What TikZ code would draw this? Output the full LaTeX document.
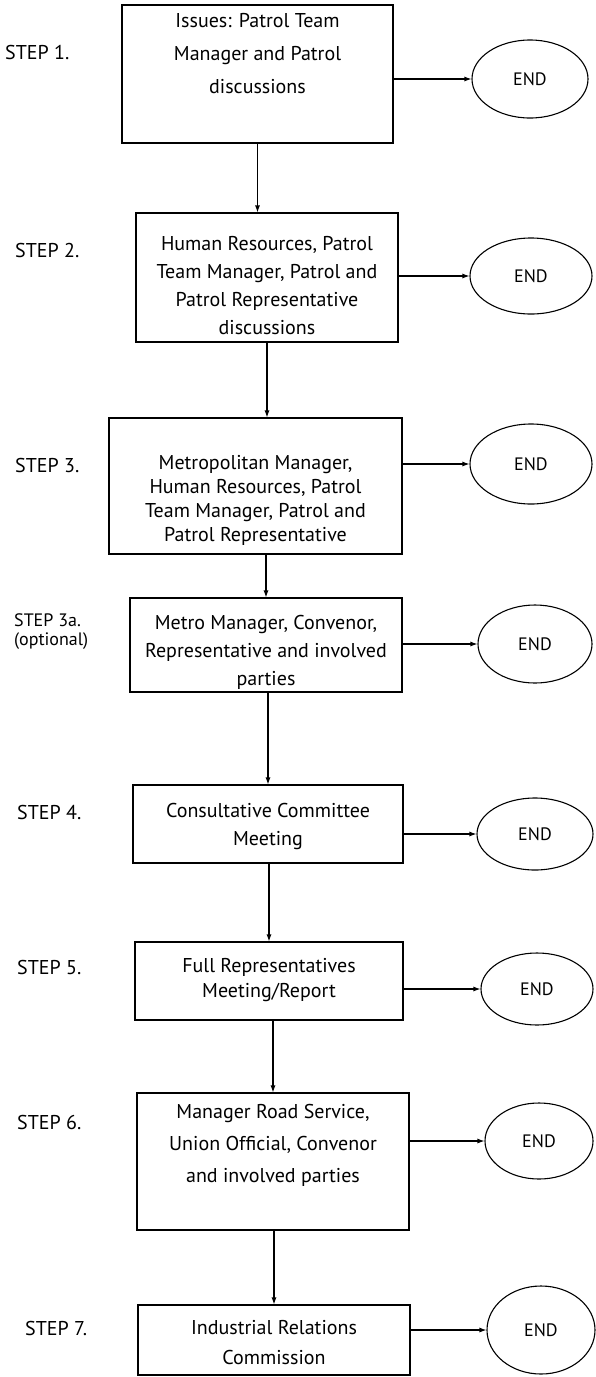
\documentclass[tikz,border=0pt]{standalone}
\usepackage{fontspec}
\setmainfont{PT Sans}
\usetikzlibrary{arrows.meta, shapes.geometric}

\begin{document}
\begin{tikzpicture}[x=1pt, y=-1pt,
  stepbox/.style={draw, line width=1.1pt, inner sep=0pt},
  steptext/.style={align=center, inner sep=0pt, font=\fontsize{20}{28}\selectfont},
  steplabel/.style={anchor=west, inner sep=0pt, align=left, font=\fontsize{20}{19}\selectfont},
  endnode/.style={ellipse, draw, line width=1.1pt, inner sep=0pt, font=\fontsize{18}{20}\selectfont},
  arr/.style={-{Latex[length=7pt,width=5pt]}, line width=1.1pt}]
\useasboundingbox (0,0) rectangle (596,1377);
% Draw step boxes
\node[stepbox, minimum width=271pt, minimum height=138pt] (s1) at (257.5,74) {};
\node[stepbox, minimum width=262pt, minimum height=129pt] (s2) at (267,277.5) {};
\node[stepbox, minimum width=293pt, minimum height=136pt] (s3) at (255.5,486) {};
\node[stepbox, minimum width=272pt, minimum height=94pt] (s3a) at (266,645) {};
\node[stepbox, minimum width=270pt, minimum height=78pt] (s4) at (268,824) {};
\node[stepbox, minimum width=268pt, minimum height=78pt] (s5) at (269,981) {};
\node[stepbox, minimum width=272pt, minimum height=137pt] (s6) at (273,1161.5) {};
\node[stepbox, minimum width=272pt, minimum height=70pt] (s7) at (274,1340) {};
% Texts in the boxes
\node[steptext, font=\fontsize{20}{33}\selectfont] (t1) at (257.5,54) {Issues: Patrol Team\\Manager and Patrol\\discussions};
\node[steptext] (t2) at (267,286) {Human Resources, Patrol\\Team Manager, Patrol and\\Patrol Representative\\discussions};
\node[steptext, font=\fontsize{20}{24}\selectfont] (t3) at (255.5,500) {Metropolitan Manager,\\Human Resources, Patrol\\Team Manager, Patrol and\\Patrol Representative};
\node[steptext] (t3a) at (266,652) {Metro Manager, Convenor,\\Representative and involved\\parties};
\node[steptext] (t4) at (268,826) {Consultative Committee\\Meeting};
\node[steptext, font=\fontsize{20}{25}\selectfont] (t5) at (269,980) {Full Representatives\\Meeting/Report};
\node[steptext, font=\fontsize{20}{32}\selectfont] (t6) at (273,1145) {Manager Road Service,\\Union Official, Convenor\\and involved parties};
\node[steptext, font=\fontsize{20}{30}\selectfont] (t7) at (274,1343) {Industrial Relations\\Commission};
% Step labels
\node[steplabel] (l1) at (5,52) {STEP 1.};
\node[steplabel] (l2) at (15,250) {STEP 2.};
\node[steplabel] (l3) at (15,465) {STEP 3.};
\node[steplabel, font=\fontsize{18}{19}\selectfont] (l3a) at (14,632) {STEP 3a.\\(optional)};
\node[steplabel] (l4) at (17,812) {STEP 4.};
\node[steplabel] (l5) at (17,967) {STEP 5.};
\node[steplabel] (l6) at (17,1122) {STEP 6.};
\node[steplabel] (l7) at (25,1328) {STEP 7.};
% END ellipses
\node[endnode, minimum width=116pt, minimum height=78pt] (e1) at (530,79) {END};
\node[endnode, minimum width=122pt, minimum height=76pt] (e2) at (531,276) {END};
\node[endnode, minimum width=122pt, minimum height=80pt] (e3) at (531,464) {END};
\node[endnode, minimum width=114pt, minimum height=78pt] (e3a) at (535,644) {END};
\node[endnode, minimum width=116pt, minimum height=72pt] (e4) at (535,834) {END};
\node[endnode, minimum width=112pt, minimum height=72pt] (e5) at (537,989) {END};
\node[endnode, minimum width=108pt, minimum height=76pt] (e6) at (539,1141) {END};
\node[endnode, minimum width=108pt, minimum height=88pt] (e7) at (541,1330) {END};
% Arrows to END
\draw[arr] (s1.east |- e1) -- (e1.west);
\draw[arr] (s2.east |- e2) -- (e2.west);
\draw[arr] (s3.east |- e3) -- (e3.west);
\draw[arr] (s3a.east |- e3a) -- (e3a.west);
\draw[arr] (s4.east |- e4) -- (e4.west);
\draw[arr] (s5.east |- e5) -- (e5.west);
\draw[arr] (s6.east |- e6) -- (e6.west);
\draw[arr] (s7.east |- e7) -- (e7.west);
% Arrows down the steps
\draw[arr] (s1.south) -- (s1.south |- s2.north);
\draw[arr] (s2.south) -- (s2.south |- s3.north);
\draw[arr] (s3.south -| s3a.north) -- (s3a.north);
\draw[arr] (s3a.south -| s4.north) -- (s4.north);
\draw[arr] (s4.south -| s5.north) -- (s5.north);
\draw[arr] (s5.south -| s6.north) -- (s6.north);
\draw[arr] (s6.south -| s7.north) -- (s7.north);
\end{tikzpicture}
\end{document}
